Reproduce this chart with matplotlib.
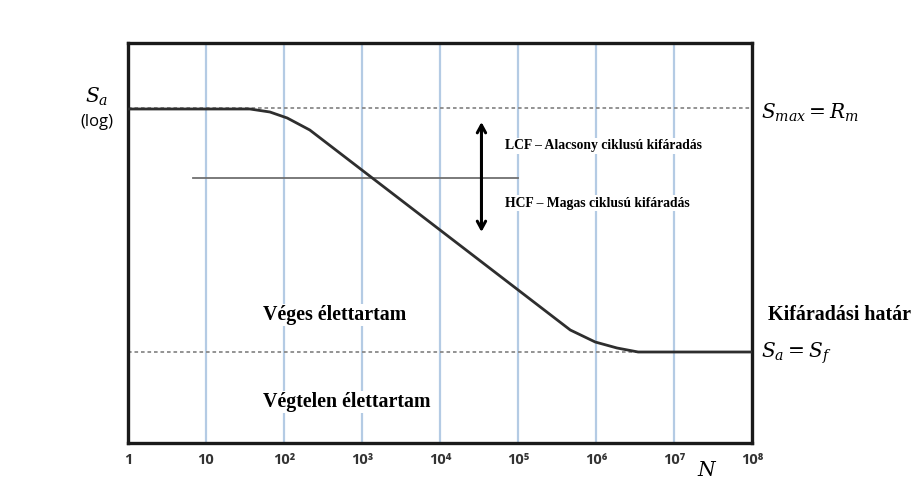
import matplotlib.pyplot as plt

plt.rcParams['mathtext.fontset'] = 'dejavuserif'

# S-N curve (Woehler), x = cycles N (log), y = stress amplitude on a log-like scale (0..400)
N_curve = [1, 36.6, 66, 110, 214, 468000, 977000, 1.86e6, 3.47e6, 1e8]
S_curve = [334, 334, 331, 325, 313, 113, 101, 95, 91, 91]

S_MAX = 335          # S_max = R_m level
S_F = 91             # fatigue limit level
LCF_HCF_Y = 265      # boundary between LCF and HCF
LCF_HCF_N = [6.8, 1e5]
ARROW_N = 34000
ARROW_Y = [211, 321]

DECADES = [1, 10, 1e2, 1e3, 1e4, 1e5, 1e6, 1e7, 1e8]
TICK_LABELS = ['1', '10', '10²', '10³', '10⁴', '10⁵', '10⁶', '10⁷', '10⁸']

serif = ['Liberation Serif', 'DejaVu Serif']
sans = ['Open Sans', 'DejaVu Sans']

fig = plt.figure(figsize=(9.13, 4.9), dpi=100)
ax = fig.add_axes([128/913, 47/490, 624/913, 400/490])
ax.set_xscale('log')
ax.set_xlim(1, 1e8)
ax.set_ylim(0, 400)

# light blue vertical grid lines at each decade
for d in DECADES[1:-1]:
    ax.axvline(d, color='#b4cbe4', lw=1.6, zorder=1)

# dotted reference levels
ax.axhline(S_MAX, color='#8a8a8a', lw=1.3, ls=(0, (2, 1.6)), zorder=2)
ax.axhline(S_F, color='#8a8a8a', lw=1.3, ls=(0, (2, 1.6)), zorder=2)

# LCF / HCF boundary
ax.plot(LCF_HCF_N, [LCF_HCF_Y, LCF_HCF_Y], color='#707070', lw=1.3, zorder=3)

# the curve
ax.plot(N_curve, S_curve, color='#2e2e2e', lw=2.0, zorder=4, solid_joinstyle='round')

# double arrow
ax.annotate('', xy=(ARROW_N, ARROW_Y[1]), xytext=(ARROW_N, ARROW_Y[0]),
            arrowprops=dict(arrowstyle='<->,head_length=0.55,head_width=0.3',
                            color='black', lw=2.2, shrinkA=0, shrinkB=0), zorder=5)

wbox = dict(facecolor='white', edgecolor='none', pad=1)
ax.text(68000, 297, 'LCF – Alacsony ciklusú kifáradás', family=serif, fontweight='bold',
        fontsize=9.8, va='center', ha='left', bbox=wbox, zorder=6)
ax.text(68000, 240, 'HCF – Magas ciklusú kifáradás', family=serif, fontweight='bold',
        fontsize=9.8, va='center', ha='left', bbox=wbox, zorder=6)
ax.text(54, 128, 'Véges élettartam', family=serif, fontweight='bold',
        fontsize=14.4, va='center', ha='left', bbox=wbox, zorder=6)
ax.text(54, 41, 'Végtelen élettartam', family=serif, fontweight='bold',
        fontsize=14.4, va='center', ha='left', bbox=wbox, zorder=6)

# labels outside the axes
ax.text(1.6e8, 128, 'Kifáradási határ', family=serif, fontweight='bold',
        fontsize=14.4, va='center', ha='left', clip_on=False)
ax.text(1.3e8, 330, r'$S_{max} = R_m$', fontsize=14.5, va='center', ha='left', clip_on=False)
ax.text(1.3e8, 90, r'$S_a = S_f$', fontsize=14.5, va='center', ha='left', clip_on=False)
ax.text(-0.05, 346, r'$S_a$', fontsize=14.5, va='center', ha='center', clip_on=False,
        transform=ax.get_yaxis_transform())
ax.text(-0.05, 321, '(log)', family=sans, fontsize=12,
        va='center', ha='center', clip_on=False, transform=ax.get_yaxis_transform())
ax.text(2.7e7, -27, r'$N$', fontsize=14.5, va='center', ha='center', clip_on=False)

ax.set_xticks(DECADES)
ax.set_xticklabels(TICK_LABELS, fontweight='bold', fontsize=10.5, color='#333333',
                   family=sans)
ax.minorticks_off()
ax.tick_params(axis='x', length=0, pad=7)
ax.set_yticks([])
for s in ax.spines.values():
    s.set_linewidth(2.4)
    s.set_color('#1a1a1a')

fig.savefig('out.png', dpi=100)
